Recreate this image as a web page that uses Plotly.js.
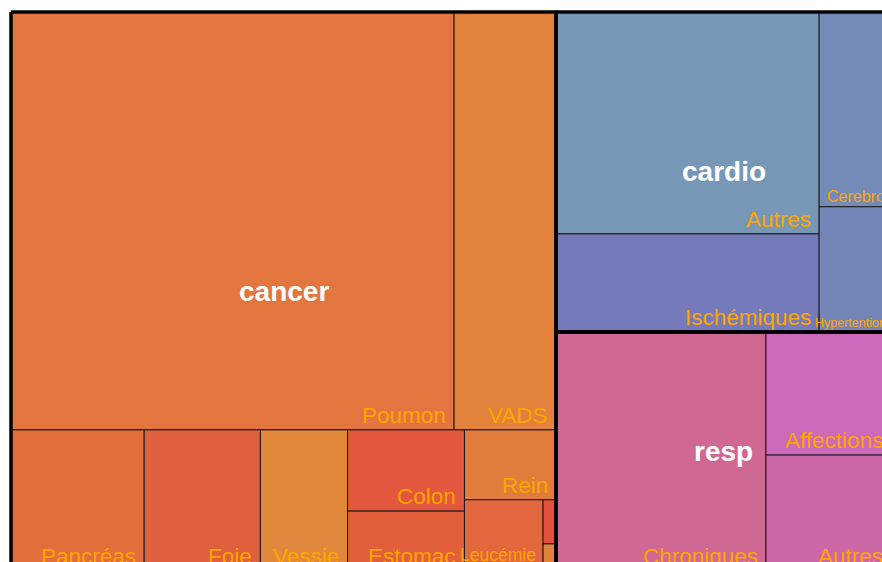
<!DOCTYPE html>
<html>
<head>
<meta charset="utf-8">
<script src="https://cdn.plot.ly/plotly-3.0.1.min.js"></script>
<style>
  html, body { margin: 0; padding: 0; overflow: hidden; background: #ffffff; width: 882px; height: 562px; }
  #chart { width: 900px; height: 580px; }
</style>
</head>
<body>
<div id="chart"></div>
<script>
// ---------------- data ----------------
const groupNames = ["cancer", "cardio", "resp"];

const cancerLabels = ["Poumon", "VADS", "Pancréas", "Foie", "Vessie", "Colon", "Estomac", "Rein", "Leucémie", "Myélome", "Mélanome"];
const cancerValues = [1852, 426, 188, 164, 123, 95, 70, 64, 56, 5.7, 3.5];

const cardioLabels = ["Autres", "Ischémiques", "Cerebro", "Hypertention"];
const cardioValues = [584, 258, 140, 90];

const respLabels = ["Chroniques", "Affections", "Autres"];
const respValues = [502, 154, 145];

// ---------------- styles (kept apart from the data) ----------------
const cancerColors = ["#E2763E", "#E2823C", "#E26E3C", "#E05F3C", "#E2883C", "#E2573E", "#E25F3C", "#E27C3C", "#E2673C", "#E2523F", "#E2803E"];
const cardioColors = ["#7797B7", "#757BBA", "#748BB8", "#7486B8"];
const respColors   = ["#CF6993", "#CC69BA", "#CD68A6"];
const cancerLabelSize = [22.5, 22.5, 22.5, 22.5, 22.5, 22.5, 22.5, 22.5, 17.5, 0, 0];
const cardioLabelSize = [22.5, 22.5, 16, 12.5];
const respLabelSize   = [22.5, 22.5, 22.5];
const cancerLabelLift = [1, 1, 1, 1, 1, 1, 1, 1, 5, 0, 0];
const cardioLabelLift = [1, 1, 1, 1];
const respLabelLift   = [1, 1, 1];

const W = 880, H = 559, PAD = 4;
const FONT = "Liberation Sans, Arial, sans-serif";

// ---------------- pivot-by-size treemap layout ----------------
function pivotLayout(items, x, y, w, h, out) {
  if (!items.length) return;
  if (items.length === 1) { out.push({ item: items[0], x: x, y: y, w: w, h: h }); return; }
  const total = items.reduce((s, d) => s + d.v, 0);
  const P = items[0], rest = items.slice(1);
  let best = null, acc = 0;
  for (let k = 0; k <= rest.length; k++) {
    if (k > 0) acc += rest[k - 1].v;
    let a;
    if (w >= h) {
      const cw = (P.v + acc) / total * w;
      const ph = P.v / (P.v + acc) * h;
      a = Math.max(cw / ph, ph / cw);
    } else {
      const rh = (P.v + acc) / total * h;
      const pw = P.v / (P.v + acc) * w;
      a = Math.max(rh / pw, pw / rh);
    }
    if (best === null || a < best.a - 1e-9) best = { k: k, acc: acc, a: a };
  }
  const L2 = rest.slice(0, best.k), L3 = rest.slice(best.k);
  const s = P.v + best.acc;
  if (w >= h) {
    const cw = s / total * w, ph = P.v / s * h;
    out.push({ item: P, x: x, y: y, w: cw, h: ph });
    pivotLayout(L2, x, y + ph, cw, h - ph, out);
    pivotLayout(L3, x + cw, y, w - cw, h, out);
  } else {
    const rh = s / total * h, pw = P.v / s * w;
    out.push({ item: P, x: x, y: y, w: pw, h: rh });
    pivotLayout(L2, x + pw, y, w - pw, rh, out);
    pivotLayout(L3, x, y + rh, w, h - rh, out);
  }
}

const groupData = [
  { name: groupNames[0], labels: cancerLabels, values: cancerValues, colors: cancerColors, sizes: cancerLabelSize, lift: cancerLabelLift },
  { name: groupNames[1], labels: cardioLabels, values: cardioValues, colors: cardioColors, sizes: cardioLabelSize, lift: cardioLabelLift },
  { name: groupNames[2], labels: respLabels, values: respValues, colors: respColors, sizes: respLabelSize, lift: respLabelLift }
];

const groupItems = groupData.map(g => ({ v: g.values.reduce((a, b) => a + b, 0), g: g }))
  .sort((a, b) => b.v - a.v);
const groupRects = [];
pivotLayout(groupItems, 0, 0, W, H, groupRects);

const traces = [];
const annotations = [];
const groupLabelAnn = [];

function rectPath(r) {
  return {
    x: [r.x, r.x + r.w, r.x + r.w, r.x, r.x],
    y: [r.y, r.y, r.y + r.h, r.y + r.h, r.y]
  };
}

groupRects.forEach(gr => {
  const g = gr.item.g;
  const leaves = g.values.map((v, i) => ({ v: v, label: g.labels[i], color: g.colors[i], fs: g.sizes[i], lift: g.lift[i] }))
    .sort((a, b) => b.v - a.v);
  const leafRects = [];
  pivotLayout(leaves, gr.x, gr.y, gr.w, gr.h, leafRects);
  leafRects.forEach(lr => {
    const p = rectPath(lr);
    traces.push({
      type: "scatter", mode: "lines", x: p.x, y: p.y,
      fill: "toself", fillcolor: lr.item.color,
      line: { color: "#1a1a1a", width: 1 },
      hoverinfo: "text", text: g.name + " / " + lr.item.label + ": " + lr.item.v,
      showlegend: false
    });
    const fs = lr.item.fs;
    if (fs > 0) {
      annotations.push({
        x: lr.x + lr.w, y: lr.y + lr.h, xref: "x", yref: "y",
        xanchor: "right", yanchor: "bottom",
        xshift: -0.32 * fs, yshift: lr.item.lift,
        text: lr.item.label, showarrow: false, borderpad: 0,
        font: { family: FONT, size: fs, color: "#FFA500" }
      });
    }
  });
  groupLabelAnn.push({
    x: gr.x + gr.w / 2, y: gr.y + gr.h / 2, xref: "x", yref: "y",
    xanchor: "center", yanchor: "middle",
    text: g.name, showarrow: false, borderpad: 0,
    font: { family: FONT, size: 28, color: "#ffffff", weight: "bold" }
  });
});

groupRects.forEach(gr => {
  const p = rectPath(gr);
  traces.push({
    type: "scatter", mode: "lines", x: p.x, y: p.y,
    line: { color: "#000000", width: 3.5 },
    hoverinfo: "skip", showlegend: false
  });
});

const layout = {
  width: 900, height: 580,
  margin: { l: 11 - PAD, r: 900 - 11 - W - PAD, t: 12 - PAD, b: 580 - 12 - H - PAD, pad: 0 },
  paper_bgcolor: "#ffffff", plot_bgcolor: "#ffffff",
  xaxis: { range: [-PAD, W + PAD], visible: false, fixedrange: true },
  yaxis: { range: [H + PAD, -PAD], visible: false, fixedrange: true },
  showlegend: false,
  annotations: annotations.concat(groupLabelAnn)
};

Plotly.newPlot("chart", traces, layout, { displayModeBar: false, staticPlot: true });
</script>
</body>
</html>
